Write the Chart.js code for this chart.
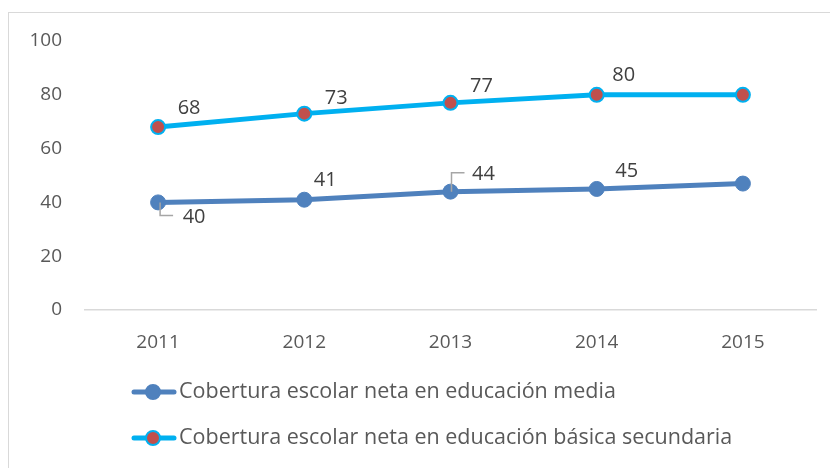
<!DOCTYPE html>
<html>
<head>
<meta charset="utf-8">
<script src="https://cdn.jsdelivr.net/npm/chart.js@4/dist/chart.umd.min.js"></script>
<style>
html,body{margin:0;padding:0;background:#fff;overflow:hidden}
#frame{position:absolute;left:8px;top:12px;width:830px;height:470px;border:1px solid #d9d9d9;box-sizing:border-box}
#wrap{position:absolute;left:0;top:0;width:830px;height:468px}
</style>
</head>
<body>
<div id="frame"></div>
<div id="wrap"><canvas id="chart" width="830" height="468"></canvas></div>
<script>
// data
let years = ["2011","2012","2013","2014","2015"]
let media = [40, 41, 44, 45, 47]
let secundaria = [68, 73, 77, 80, 80]
let mediaLabels = ["40","41","44","45",""]
let secundariaLabels = ["68","73","77","80",""]
let yTicks = [0, 20, 40, 60, 80, 100]
let seriesNames = [
"Cobertura escolar neta en educación media",
"Cobertura escolar neta en educación básica secundaria"
]

// label placement (style only)
let labelStyle = [
{offsets:[[36,15],[21,-19],[33,-17],[30,-18]], leader:[ "down", null, "up", null ]},
{offsets:[[31,-19],[32,-15],[31,-17],[27,-20]], leader:[null,null,null,null]}
]

const font = "'Open Sans', sans-serif"

const dataLabels = {
id:"dataLabels",
afterDatasetsDraw(chart){
let ctx = chart.ctx
ctx.save()
ctx.font = "20px " + font
ctx.fillStyle = "#404040"
ctx.textAlign = "center"
ctx.textBaseline = "middle"
chart.data.datasets.forEach((ds,i)=>{
let meta = chart.getDatasetMeta(i)
ds.labels.forEach((t,j)=>{
if(!t) return
let p = meta.data[j]
let off = labelStyle[i].offsets[j]
let lead = labelStyle[i].leader[j]
if(lead){
ctx.strokeStyle = "#a6a6a6"
ctx.lineWidth = 1.5
ctx.beginPath()
if(lead=="down"){
ctx.moveTo(p.x+2,p.y)
ctx.lineTo(p.x+2,p.y+13)
ctx.lineTo(p.x+15,p.y+13)
}else{
ctx.moveTo(p.x+1,p.y)
ctx.lineTo(p.x+1,p.y-19)
ctx.lineTo(p.x+14,p.y-19)
}
ctx.stroke()
}
ctx.fillText(t,p.x+off[0],p.y+off[1])
})
})
ctx.restore()
}
}

const lineLegend = {
id:"lineLegend",
afterDraw(chart){
let ctx = chart.ctx
ctx.save()
ctx.font = "21.5px " + font
ctx.textBaseline = "middle"
let rows = [392,438]
chart.data.datasets.forEach((ds,i)=>{
let y = rows[i]
ctx.strokeStyle = ds.borderColor
ctx.lineWidth = 5
ctx.lineCap = "round"
ctx.beginPath()
ctx.moveTo(134,y)
ctx.lineTo(174,y)
ctx.stroke()
ctx.beginPath()
ctx.arc(153,y,7,0,Math.PI*2)
ctx.fillStyle = ds.pointBackgroundColor
ctx.fill()
ctx.lineWidth = 2
ctx.strokeStyle = ds.pointBorderColor
ctx.stroke()
ctx.fillStyle = "#595959"
ctx.fillText(seriesNames[i],179,y)
})
ctx.restore()
}
}

let ctx = document.getElementById("chart").getContext("2d")

new Chart(ctx,{
type:"line",
data:{
labels:years,
datasets:[{
label:seriesNames[0],
data:media,
labels:mediaLabels,
borderColor:"#4f81bd",
borderWidth:5,
pointRadius:7.5,
pointHoverRadius:7.5,
pointBackgroundColor:"#4f81bd",
pointBorderColor:"#4f81bd",
pointBorderWidth:1,
tension:0
},{
label:seriesNames[1],
data:secundaria,
labels:secundariaLabels,
borderColor:"#00b0f0",
borderWidth:5,
pointRadius:7,
pointHoverRadius:7,
pointBackgroundColor:"#c0504d",
pointBorderColor:"#00b0f0",
pointBorderWidth:2,
tension:0
}]
},
options:{
responsive:false,
animation:false,
devicePixelRatio:1,
layout:{padding:{left:0,right:14,top:41,bottom:0}},
plugins:{legend:{display:false},tooltip:{enabled:false}},
scales:{
x:{
offset:true,
grid:{display:false,drawTicks:false},
border:{display:true,color:"#d9d9d9",width:1.5},
ticks:{color:"#595959",font:{family:font,size:19},padding:21,maxRotation:0},
afterFit(s){ s.height = 158 }
},
y:{
min:0,
max:100,
grid:{display:false,drawTicks:false},
border:{display:false},
afterBuildTicks(s){ s.ticks = yTicks.map(v=>({value:v})) },
ticks:{color:"#595959",font:{family:font,size:19},padding:23},
afterFit(s){ s.width = 85 }
}
}
},
plugins:[dataLabels,lineLegend]
})
</script>
</body>
</html>
